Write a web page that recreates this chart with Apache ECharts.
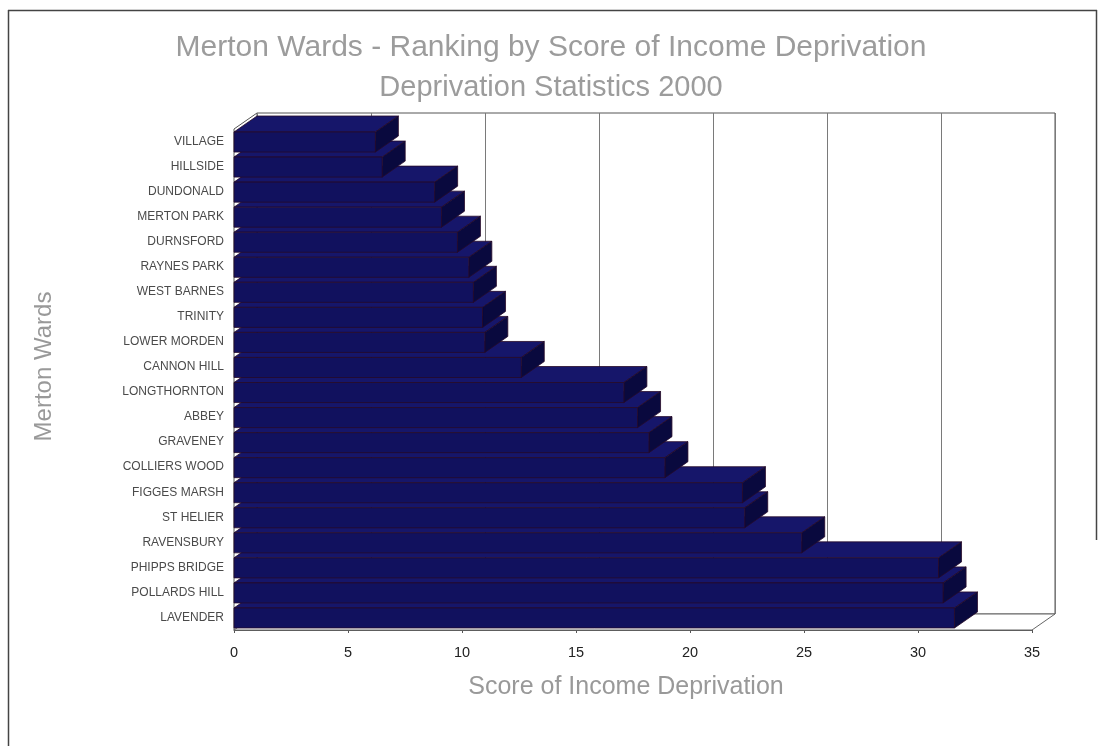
<!DOCTYPE html>
<html>
<head>
<meta charset="utf-8">
<title>Merton Wards - Ranking by Score of Income Deprivation</title>
<script src="https://cdn.jsdelivr.net/npm/echarts@6/dist/echarts.min.js"></script>
<style>
  html, body { margin: 0; padding: 0; background: #ffffff; }
  #chart { width: 1102px; height: 746px; }
</style>
</head>
<body>
<div id="chart"></div>
<script>
// Wards, top to bottom
const categories = [
  'VILLAGE', 'HILLSIDE', 'DUNDONALD', 'MERTON PARK', 'DURNSFORD',
  'RAYNES PARK', 'WEST BARNES', 'TRINITY', 'LOWER MORDEN', 'CANNON HILL',
  'LONGTHORNTON', 'ABBEY', 'GRAVENEY', 'COLLIERS WOOD', 'FIGGES MARSH',
  'ST HELIER', 'RAVENSBURY', 'PHIPPS BRIDGE', 'POLLARDS HILL', 'LAVENDER'
];

// Score of income deprivation for each ward
const scores = [
  6.2, 6.5, 8.8, 9.1, 9.8,
  10.3, 10.5, 10.9, 11.0, 12.6,
  17.1, 17.7, 18.2, 18.9, 22.3,
  22.4, 24.9, 30.9, 31.1, 31.6
];

const titleText = 'Merton Wards - Ranking by Score of Income Deprivation';
const subtitleText = 'Deprivation Statistics 2000';
const xAxisName = 'Score of Income Deprivation';
const yAxisName = 'Merton Wards';
const xMin = 0, xMax = 35, xStep = 5;

// Depth of the 3D box (screen offset from the front plane to the back wall)
const DX = 23, DY = -16;

const FONT = '"Liberation Sans", Arial, sans-serif';

// Bars are drawn bottom-up so each upper bar's front face covers the top face below it
const barData = [];
for (let i = categories.length - 1; i >= 0; i--) {
  barData.push([scores[i], i]);
}

function renderBar(params, api) {
  const cat = api.value(1);
  const v = api.value(0);
  const p0 = api.coord([xMin, cat]);
  const p1 = api.coord([v, cat]);
  const band = api.size([0, 1])[1];
  const yBot = p0[1] + band / 2 - 2;
  const h = band * 0.8;
  const yTop = yBot - h;
  const x0 = p0[0], x1 = p1[0];
  const edge = { stroke: '#260a28', lineWidth: 0.8 };
  return {
    type: 'group',
    children: [
      {
        type: 'polygon',
        shape: { points: [[x0, yTop], [x1, yTop], [x1 + DX, yTop + DY], [x0 + DX, yTop + DY]] },
        style: Object.assign({ fill: '#16166a' }, edge)
      },
      {
        type: 'polygon',
        shape: { points: [[x1, yTop], [x1 + DX, yTop + DY], [x1 + DX, yBot + DY], [x1, yBot]] },
        style: Object.assign({ fill: '#09093e' }, edge)
      },
      {
        type: 'rect',
        shape: { x: x0, y: yTop, width: x1 - x0, height: h },
        style: Object.assign({ fill: '#11115e' }, edge)
      }
    ]
  };
}

// Floor and the slanted edges joining the front plane to the back wall
function renderFrame(params, api) {
  const cs = params.coordSys;
  const xl = cs.x, xr = cs.x + cs.width, yt = cs.y, yb = cs.y + cs.height;
  const line = { stroke: '#555', lineWidth: 1, fill: null };
  return {
    type: 'group',
    children: [
      { type: 'polyline', shape: { points: [[xl, yb], [xl, yt], [xl + DX, yt + DY]] }, style: line },
      { type: 'polygon', shape: { points: [[xl, yb], [xr, yb], [xr + DX, yb + DY], [xl + DX, yb + DY]] },
        style: { stroke: '#666', lineWidth: 1, fill: '#ffffff' } }
    ]
  };
}

const chart = echarts.init(document.getElementById('chart'), null, { renderer: 'canvas' });

chart.setOption({
  backgroundColor: '#ffffff',
  animation: false,
  title: {
    text: titleText,
    subtext: subtitleText,
    left: 'center',
    top: 28,
    itemGap: 10,
    textStyle: { fontFamily: FONT, fontSize: 30, fontWeight: 'normal', color: '#9c9c9c' },
    subtextStyle: { fontFamily: FONT, fontSize: 29, fontWeight: 'normal', color: '#9c9c9c' }
  },
  grid: [
    // front plane
    { left: 234, right: 70, top: 129, bottom: 116, containLabel: false },
    // back wall
    { left: 234 + DX, right: 70 - DX, top: 129 + DY, bottom: 116 - DY, containLabel: false,
      show: true, borderColor: '#555', borderWidth: 1, backgroundColor: '#ffffff' }
  ],
  xAxis: [
    {
      gridIndex: 0, type: 'value', min: xMin, max: xMax, interval: xStep,
      name: xAxisName, nameLocation: 'middle', nameGap: 45,
      nameTextStyle: { fontFamily: FONT, fontSize: 25, color: '#999', padding: [0, 14, 0, 0] },
      axisLine: { show: true, lineStyle: { color: '#555', width: 1 } },
      axisTick: { show: true, length: 3, lineStyle: { color: '#555' } },
      axisLabel: { fontFamily: FONT, fontSize: 14.5, color: '#222', margin: 15 },
      splitLine: { show: false }
    },
    {
      gridIndex: 1, type: 'value', min: xMin, max: xMax, interval: xStep,
      axisLine: { show: false }, axisTick: { show: false }, axisLabel: { show: false },
      splitLine: { show: true, lineStyle: { color: '#7a7a7a', width: 1 } }
    }
  ],
  yAxis: [
    {
      gridIndex: 0, type: 'category', data: categories, inverse: true,
      name: yAxisName, nameLocation: 'middle', nameRotate: 90, nameGap: 178,
      nameTextStyle: { fontFamily: FONT, fontSize: 24, color: '#999', padding: [0, 0, 0, 26] },
      axisLine: { show: false }, axisTick: { show: false },
      axisLabel: { fontFamily: FONT, fontSize: 12, color: '#4a4a4a', margin: 10 }
    },
    {
      gridIndex: 1, type: 'value', show: false
    }
  ],
  series: [
    {
      type: 'custom', name: 'frame', xAxisIndex: 0, yAxisIndex: 0, z: 1,
      data: [[0, 0]], renderItem: renderFrame, silent: true
    },
    {
      type: 'custom', name: 'Score', xAxisIndex: 0, yAxisIndex: 0, z: 3,
      encode: { x: 0, y: 1 },
      data: barData, renderItem: renderBar
    }
  ],
  graphic: [
    { type: 'line', shape: { x1: 8.5, y1: 10, x2: 8.5, y2: 746 }, style: { stroke: '#444', lineWidth: 1.5 }, silent: true },
    { type: 'line', shape: { x1: 8, y1: 10.5, x2: 1097, y2: 10.5 }, style: { stroke: '#444', lineWidth: 1.5 }, silent: true },
    { type: 'line', shape: { x1: 1096.5, y1: 10, x2: 1096.5, y2: 540 }, style: { stroke: '#444', lineWidth: 1.5 }, silent: true }
  ]
});
</script>
</body>
</html>
